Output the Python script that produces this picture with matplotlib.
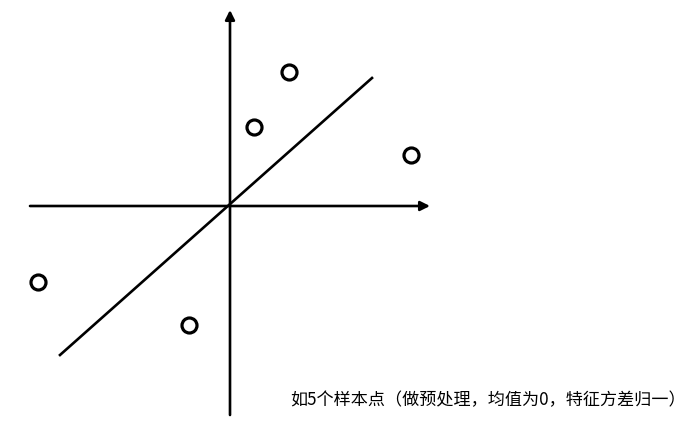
import matplotlib
matplotlib.use("Agg")
import matplotlib.pyplot as plt

plt.rcParams['font.family'] = ['Noto Sans CJK SC', 'DejaVu Sans']

# sample points (centered at origin)
xs = [-192, -41, 24, 59, 181]
ys = [-76, -119, 79, 134, 51]

# principal direction line end points
line_x = [-170, 142]
line_y = [-149, 128]

# axes extents
x_axis = [-200, 200]
y_axis = [-209, 196]

caption = "如5个样本点（做预处理，均值为0，特征方差归一）"

fig = plt.figure(figsize=(6.85, 4.22), dpi=100)
ax = fig.add_axes([0, 0, 1, 1])
ax.set_xlim(-230, 455)
ax.set_ylim(-216, 206)
ax.axis('off')

# coordinate axes with arrows
arrow = dict(arrowstyle='-|>', color='black', lw=1.9, mutation_scale=14,
             shrinkA=0, shrinkB=0)
ax.annotate('', xy=(x_axis[1], 0), xytext=(x_axis[0], 0), arrowprops=arrow)
ax.annotate('', xy=(0, y_axis[1]), xytext=(0, y_axis[0]), arrowprops=arrow)

ax.plot(line_x, line_y, color='black', lw=1.9)
ax.plot(xs, ys, 'o', markersize=10.8, markerfacecolor='white',
        markeredgecolor='black', markeredgewidth=2.3)

ax.text(60, -194, caption, fontsize=12.3, ha='left', va='center')

fig.savefig('out.png', dpi=100)
